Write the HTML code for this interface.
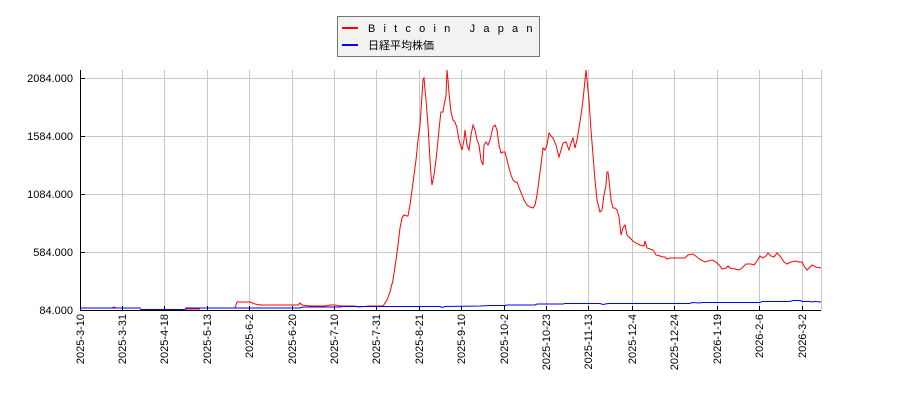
<!DOCTYPE html>
<html><head><meta charset="utf-8"><style>
body{margin:0;background:#fff}
svg text{font-family:"Liberation Sans","Noto Sans CJK JP",sans-serif;font-size:11px;fill:#000}
</style></head><body>
<svg width="900" height="400" xmlns="http://www.w3.org/2000/svg">
<g stroke="#c8c8c8" stroke-width="1">
<line x1="80" y1="78.5" x2="821" y2="78.5"/><line x1="80" y1="136.5" x2="821" y2="136.5"/><line x1="80" y1="194.5" x2="821" y2="194.5"/><line x1="80" y1="252.5" x2="821" y2="252.5"/>
<line x1="122.5" y1="70" x2="122.5" y2="310"/><line x1="164.5" y1="70" x2="164.5" y2="310"/><line x1="207.5" y1="70" x2="207.5" y2="310"/><line x1="249.5" y1="70" x2="249.5" y2="310"/><line x1="292.5" y1="70" x2="292.5" y2="310"/><line x1="334.5" y1="70" x2="334.5" y2="310"/><line x1="376.5" y1="70" x2="376.5" y2="310"/><line x1="419.5" y1="70" x2="419.5" y2="310"/><line x1="461.5" y1="70" x2="461.5" y2="310"/><line x1="504.5" y1="70" x2="504.5" y2="310"/><line x1="546.5" y1="70" x2="546.5" y2="310"/><line x1="588.5" y1="70" x2="588.5" y2="310"/><line x1="632.5" y1="70" x2="632.5" y2="310"/><line x1="674.5" y1="70" x2="674.5" y2="310"/><line x1="717.5" y1="70" x2="717.5" y2="310"/><line x1="759.5" y1="70" x2="759.5" y2="310"/><line x1="802.5" y1="70" x2="802.5" y2="310"/><line x1="821.5" y1="70" x2="821.5" y2="310"/>
</g>
<polyline fill="none" stroke="#f00" stroke-width="1" points="112,308 114,307 116,308"/>
<polyline fill="none" stroke="#f00" stroke-width="1" points="122,308 133,308"/>
<polyline fill="none" stroke="#f00" stroke-width="1" points="185,309 200,309"/>
<polyline fill="none" stroke="#f00" stroke-width="1" points="235,308 237,302 250,302 255,304 260,305 270,305 280,305 298,305 300,303 302,305 310,306 325,306 330,305 335,305 340,306 355,306 358,307 370,306 383,306 387,300 390,292 393,280 396,260 398,245 400,228 402,218 404,215 407,216 408,216 410,205 412,190 414,175 416,160 418,140 420,125 421,110 422,95 423,80 424,78 425,90 426,100 428,125 430,160 431,175 432,185 434,175 436,160 438,140 440,120 441,112 443,112 444,105 446,96 447,70 448,80 449,93 451,112 453,120 455,122 457,128 459,140 462,150 464,140 465,130 467,145 469,150 471,135 473,125 475,130 477,140 479,145 481,160 483,165 484,145 486,142 488,145 490,140 493,127 495,125 497,130 499,145 501,153 503,152 505,152 507,160 509,168 511,175 513,180 515,182 517,182 520,190 524,200 527,205 530,207 533,208 535,205 537,195 539,180 541,165 543,148 545,150 547,145 549,133 551,136 553,138 556,145 559,157 561,150 563,143 566,142 569,150 571,143 573,138 575,148 577,140 579,128 581,115 583,100 585,80 586,70 587,80 589,100 591,130 593,155 595,180 597,200 600,212 602,210 604,195 606,185 607,172 608,172 609,180 611,200 613,208 615,208 617,210 619,217 621,235 623,228 625,225 627,235 630,238 634,242 640,245 644,246 645,241 647,248 653,250 656,255 660,256 663,257 665,257 667,259 670,258 675,258 680,258 685,258 688,255 693,254 697,257 701,260 705,262 708,261 712,260 716,262 720,266 722,269 726,268 728,266 730,268 735,269 739,270 742,268 746,264 751,264 754,265 757,261 760,256 763,258 766,256 768,253 771,256 774,257 777,253 780,256 784,262 787,264 791,262 795,261 799,262 802,262 804,266 807,270 810,267 812,265 816,267 821,268"/>
<polyline fill="none" stroke="#00f" stroke-width="1" points="80,308 140,308 141,309.5 185,309.5 186,308 300,308 303,307 340,307 343,306.5 400,306.5 440,306.5 442,307.5 445,306.5 480,306 490,305.5 505,305.5 507,305 535,305 537,304 563,304 565,303.5 600,303.5 603,304.5 608,303.5 690,303.5 692,302.5 700,303 702,302.5 760,302.5 762,301.5 790,301.5 793,300.5 800,300.5 802,301.5 810,301.5 812,302 815,301.5 821,302"/>
<g stroke="#000" stroke-width="1">
<line x1="80.5" y1="70" x2="80.5" y2="310"/><line x1="80" y1="310.5" x2="821" y2="310.5"/>
<line x1="80" y1="78.5" x2="85" y2="78.5"/><line x1="80" y1="136.5" x2="85" y2="136.5"/><line x1="80" y1="194.5" x2="85" y2="194.5"/><line x1="80" y1="252.5" x2="85" y2="252.5"/>
<path d="M80.5 306v4M122.5 306v4M164.5 306v4M207.5 306v4M249.5 306v4M292.5 306v4M334.5 306v4M376.5 306v4M419.5 306v4M461.5 306v4M504.5 306v4M546.5 306v4M588.5 306v4M632.5 306v4M674.5 306v4M717.5 306v4M759.5 306v4M802.5 306v4"/>
</g>
<g text-anchor="end">
<text x="73" y="82">2084.000</text><text x="73" y="140">1584.000</text><text x="73" y="198">1084.000</text><text x="73" y="256">584.000</text><text x="73" y="314">84.000</text>
</g>
<g text-anchor="end">
<text transform="translate(84,314) rotate(-90)">2025-3-10</text>
<text transform="translate(126,314) rotate(-90)">2025-3-31</text>
<text transform="translate(168,314) rotate(-90)">2025-4-18</text>
<text transform="translate(211,314) rotate(-90)">2025-5-13</text>
<text transform="translate(253,314) rotate(-90)">2025-6-2</text>
<text transform="translate(296,314) rotate(-90)">2025-6-20</text>
<text transform="translate(338,314) rotate(-90)">2025-7-10</text>
<text transform="translate(380,314) rotate(-90)">2025-7-31</text>
<text transform="translate(423,314) rotate(-90)">2025-8-21</text>
<text transform="translate(465,314) rotate(-90)">2025-9-10</text>
<text transform="translate(508,314) rotate(-90)">2025-10-2</text>
<text transform="translate(550,314) rotate(-90)">2025-10-23</text>
<text transform="translate(592,314) rotate(-90)">2025-11-13</text>
<text transform="translate(636,314) rotate(-90)">2025-12-4</text>
<text transform="translate(678,314) rotate(-90)">2025-12-24</text>
<text transform="translate(721,314) rotate(-90)">2026-1-19</text>
<text transform="translate(763,314) rotate(-90)">2026-2-6</text>
<text transform="translate(806,314) rotate(-90)">2026-3-2</text>
</g>
<rect x="337.5" y="16.5" width="202" height="40" fill="#f2f2f2" stroke="#777"/>
<line x1="342" y1="28" x2="358" y2="28" stroke="#f00" stroke-width="2"/>
<line x1="342" y1="45" x2="358" y2="45" stroke="#00f" stroke-width="2"/>
<text x="368" y="32" letter-spacing="8.2">Bitcoin Japan</text>
<text x="368" y="49" font-size="12">日経平均株価</text>
</svg>
</body></html>
